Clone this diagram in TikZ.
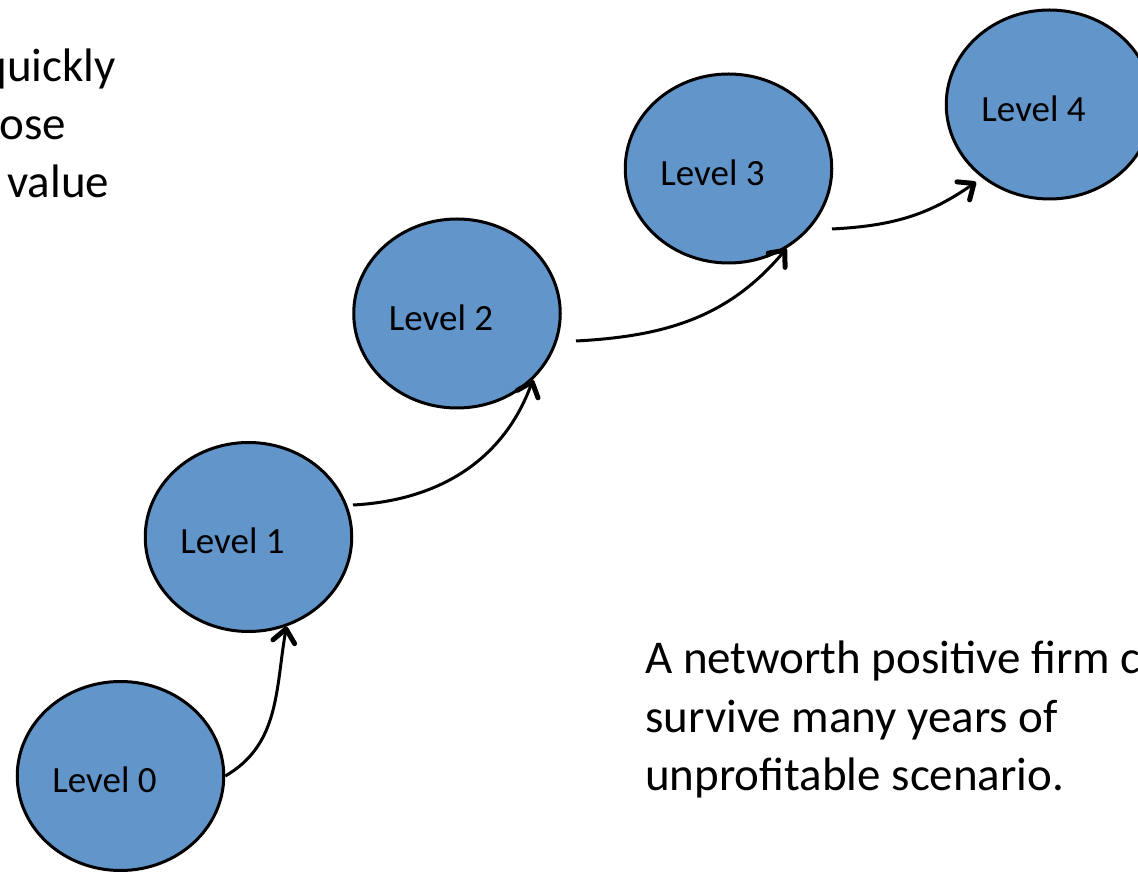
\documentclass[tikz,border=0pt]{standalone}
\usepackage{fontspec}
\setmainfont{Carlito}
\usetikzlibrary{shapes.geometric,arrows.meta,calc}
\definecolor{lvlblue}{RGB}{98,149,201}
\begin{document}
\begin{tikzpicture}[x=1pt,y=1pt,
  lvl/.style={ellipse,draw=black,line width=3pt,fill=lvlblue,minimum width=206.5pt,minimum height=189pt,inner sep=0pt},
  lvltext/.style={font=\fontsize{37}{44}\selectfont,inner sep=0pt},
  bodytext/.style={font=\fontsize{47}{58}\selectfont,inner sep=0pt},
  conn/.style={line width=3pt,-{Straight Barb[length=13pt,width=22pt,line width=5pt,round]}}]
\useasboundingbox (0,0) rectangle (1138,873);
% levels
\node[lvl] (L0) at (120.5,97) {};
\node[lvl] (L1) at (248.5,336) {};
\node[lvl] (L2) at (457,559.5) {};
\node[lvl] (L3) at (728.5,704.5) {};
\node[lvl] (L4) at (1049.5,768.5) {};
\node[lvltext] (t0) at ($(L0.center)+(-16,-4)$) {Level 0};
\node[lvltext] (t1) at ($(L1.center)+(-16,-4)$) {Level 1};
\node[lvltext] (t2) at ($(L2.center)+(-16,-4)$) {Level 2};
\node[lvltext] (t3) at ($(L3.center)+(-16,-4)$) {Level 3};
\node[lvltext] (t4) at ($(L4.center)+(-16,-4)$) {Level 4};
% connector ends off the borders
\coordinate (c12) at ($(L1.center)+(104.5,32)$);
\coordinate (c23) at ($(L2.center)+(119,-27.5)$);
\coordinate (c34) at ($(L3.center)+(103.5,-60.5)$);
\coordinate (e4) at ($(L4.center)+(-73.5,-77.5)$);
% connectors
\draw[conn] (L0.east) to[out=30,in=-100] (L1.-67);
\draw[conn] (c12) to[out=3,in=-110] (L2.-41);
\draw[conn] (c23) to[out=3,in=-130] (L3.-54);
\draw[conn] (c34) to[out=3,in=-145] (e4);
% texts
\node[bodytext,anchor=base east] (q1) at (116,791) {quickly};
\node[bodytext,anchor=base east] (q2) at (66,733) {ose};
\node[bodytext,anchor=base west] (q3) at (7,675) {value};
\node[bodytext,anchor=base west] (n1) at (645,199) {A networth positive firm c};
\node[bodytext,anchor=base west] (n2) at (645,140.5) {survive many years of};
\node[bodytext,anchor=base west] (n3) at (645,82) {unprofitable scenario.};
\end{tikzpicture}
\end{document}
